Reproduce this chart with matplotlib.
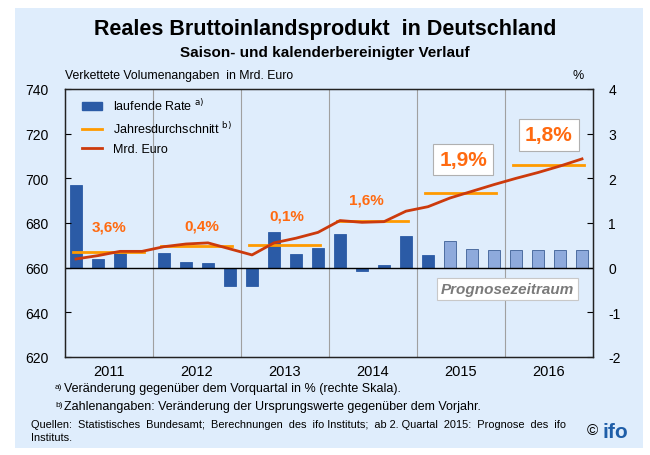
import matplotlib.pyplot as plt
from matplotlib.patches import Rectangle, Patch
from matplotlib.lines import Line2D

plt.rcParams['font.family'] = ['Liberation Sans', 'DejaVu Sans']
plt.rcParams['axes.unicode_minus'] = False

years = ['2011', '2012', '2013', '2014', '2015', '2016']

# laufende Rate, % gegenueber Vorquartal (rechte Skala)
rate = [1.85, 0.2, 0.33, 0.0,
        0.33, 0.12, 0.1, -0.42,
        -0.42, 0.79, 0.31, 0.45,
        0.76, -0.08, 0.06, 0.7,
        0.28, 0.6, 0.42, 0.4,
        0.4, 0.4, 0.4, 0.4]
n_actual = 17  # bis 1. Quartal 2015 Ist-Werte

# Mrd. Euro, verkettete Volumenangaben
bip = [663.9, 665.4, 667.3, 667.3,
       669.4, 670.6, 671.1, 668.4,
       665.7, 671.1, 673.2, 675.8,
       681.1, 680.3, 680.6, 685.3,
       687.3, 691.2, 694.2, 697.2,
       700.0, 702.6, 705.5, 708.7]

# Jahresdurchschnitt (Mrd. Euro) und Veraenderung zum Vorjahr
jahr_mittel = [667.0, 669.6, 670.3, 681.1, 693.4, 706.0]
jahr_rate = ['3,6%', '0,4%', '0,1%', '1,6%', '1,9%', '1,8%']

bg = '#dfedfc'
dark_blue = '#2b5ba6'
light_blue = '#8eaadc'
orange = '#ff9a00'
red = '#cc3a0c'
label_orange = '#ff6a10'

fig = plt.figure(figsize=(6.5, 4.56), dpi=100)
fig.patches.append(Rectangle((15 / 650, 1 - 449 / 456), 628 / 650, 440 / 456,
                             transform=fig.transFigure, facecolor=bg,
                             edgecolor='none', zorder=-10))

ax = fig.add_axes([65 / 650, 1 - 358 / 456, 528 / 650, 268 / 456])
ax2 = ax.twinx()
ax.set_zorder(ax2.get_zorder() + 1)
ax.patch.set_visible(False)
ax2.patch.set_facecolor('white')

x = [i + 0.5 for i in range(24)]

# bars on right axis
cols = [dark_blue if i < n_actual else light_blue for i in range(24)]
edges = [dark_blue if i < n_actual else '#3d5f95' for i in range(24)]
ax2.bar(x, rate, width=0.58, color=cols, edgecolor=edges, linewidth=0.6, zorder=2)
ax2.axhline(0, color='black', linewidth=1.0, zorder=3)
ax2.set_ylim(-2, 4)
ax2.set_yticks(range(-2, 5))
ax2.tick_params(axis='y', direction='in', length=4, labelsize=10, pad=11)

for k in range(1, 6):
    ax2.axvline(4 * k, color='#a0a0a0', linewidth=0.8, zorder=1)

# left axis: line + annual averages
for k, m in enumerate(jahr_mittel):
    ax.plot([4 * k + 0.35, 4 * k + 3.6], [m, m], color=orange, linewidth=2, zorder=4)
ax.plot(x, bip, color=red, linewidth=2, zorder=5)
ax.set_ylim(620, 740)
ax.set_yticks(range(620, 741, 20))
ax.set_xlim(0, 24)
ax.set_xticks([4 * k + 2 for k in range(6)])
ax.set_xticklabels(years, fontsize=10.5)
ax.tick_params(axis='x', length=0, pad=5)
ax.tick_params(axis='y', direction='in', length=4, labelsize=10, pad=12)
for sp in ax.spines.values():
    sp.set_color('#222222')
    sp.set_linewidth(1.0)
for sp in ax2.spines.values():
    sp.set_color('#222222')

# annual rate labels
lab_pos = [(2.0, 678.5), (6.2, 679.0), (10.1, 683.5), (13.7, 690.5)]
for (px, py), t in zip(lab_pos, jahr_rate[:4]):
    ax.text(px, py, t, color=label_orange, fontsize=11, fontweight='bold',
            ha='center', va='center', zorder=6)
box = dict(boxstyle='square,pad=0.3', facecolor='white', edgecolor='#b0b0b0', linewidth=0.8)
ax.text(18.1, 708.5, jahr_rate[4], color=label_orange, fontsize=15, fontweight='bold',
        ha='center', va='center', bbox=box, zorder=6)
ax.text(22.0, 719.5, jahr_rate[5], color=label_orange, fontsize=15, fontweight='bold',
        ha='center', va='center', bbox=box, zorder=6)

ax.text(20.1, 650.5, 'Prognosezeitraum', color='#7a7a7a', fontsize=11,
        fontweight='bold', style='italic', ha='center', va='center', zorder=6,
        bbox=dict(boxstyle='square,pad=0.25', facecolor='white', edgecolor='#c8c8c8', linewidth=0.8))

handles = [Patch(facecolor=dark_blue, edgecolor=dark_blue),
           Line2D([], [], color=orange, linewidth=2),
           Line2D([], [], color=red, linewidth=2)]
labels = [r'laufende Rate $^{\mathrm{a)}}$', r'Jahresdurchschnitt $^{\mathrm{b)}}$', 'Mrd. Euro']
leg = ax.legend(handles, labels, loc='upper left', bbox_to_anchor=(0.01, 1.01),
                frameon=False, fontsize=9, handlelength=1.6, handleheight=0.6,
                labelspacing=0.55, handletextpad=0.9)

# titles and notes
fig.text(0.5, 1 - 29 / 456, 'Reales Bruttoinlandsprodukt  in Deutschland',
         ha='center', va='center', fontsize=15.5, fontweight='bold')
fig.text(0.5, 1 - 53 / 456, 'Saison- und kalenderbereinigter Verlauf',
         ha='center', va='center', fontsize=11, fontweight='bold')
fig.text(65 / 650, 1 - 76 / 456, 'Verkettete Volumenangaben  in Mrd. Euro',
         ha='left', va='center', fontsize=8.8)
fig.text(578 / 650, 1 - 76 / 456, '%', ha='center', va='center', fontsize=9)

fig.text(55 / 650, 1 - 388 / 456, 'a)', ha='left', va='center', fontsize=6)
fig.text(64 / 650, 1 - 389 / 456, 'Veränderung gegenüber dem Vorquartal in % (rechte Skala).',
         ha='left', va='center', fontsize=9)
fig.text(55 / 650, 1 - 406 / 456, 'b)', ha='left', va='center', fontsize=6)
fig.text(64 / 650, 1 - 407 / 456, 'Zahlenangaben: Veränderung der Ursprungswerte gegenüber dem Vorjahr.',
         ha='left', va='center', fontsize=9)
fig.text(31 / 650, 1 - 425 / 456,
         'Quellen:  Statistisches  Bundesamt;  Berechnungen  des  ifo Instituts;  ab 2. Quartal  2015:  Prognose  des  ifo',
         ha='left', va='center', fontsize=7.9)
fig.text(31 / 650, 1 - 438 / 456, 'Instituts.', ha='left', va='center', fontsize=7.9)
fig.text(592 / 650, 1 - 431 / 456, '©', ha='center', va='center', fontsize=11)
fig.text(615 / 650, 1 - 433 / 456, 'ifo', ha='center', va='center', fontsize=15,
         fontweight='bold', color='#1f5ea8')

fig.savefig('out.png', dpi=100, facecolor='white')
